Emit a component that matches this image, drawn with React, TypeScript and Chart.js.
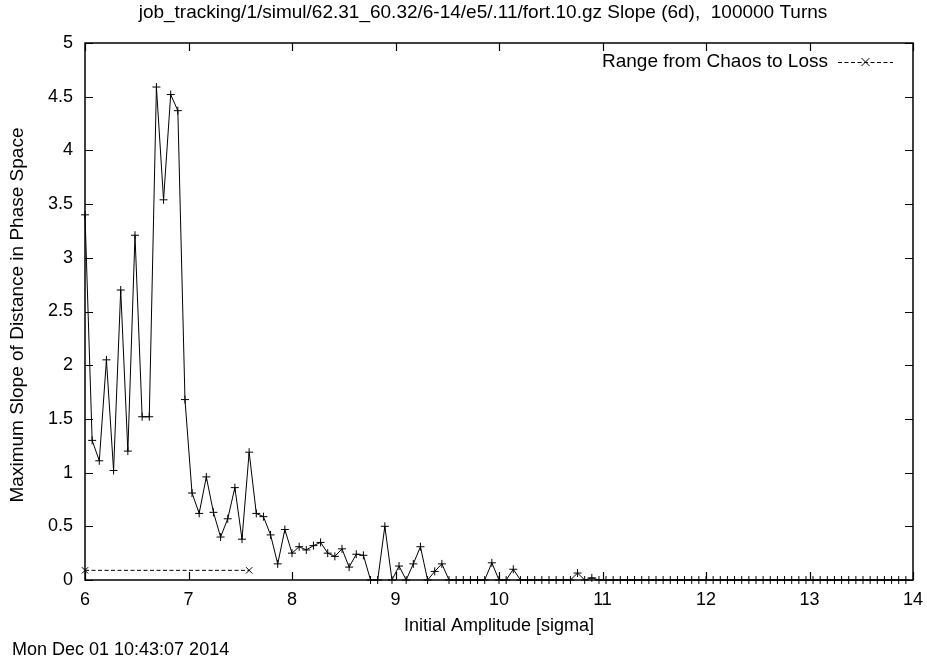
import React, { useEffect, useRef } from "react";
import { Chart, registerables } from "chart.js";

Chart.register(...registerables);

const FONT = "'Liberation Sans', Arial, Helvetica, sans-serif";

const TITLE = "job_tracking/1/simul/62.31_60.32/6-14/e5/.11/fort.10.gz Slope (6d),  100000 Turns";
const X_LABEL = "Initial Amplitude [sigma]";
const Y_LABEL = "Maximum Slope of Distance in Phase Space";
const DATE_TEXT = "Mon Dec 01 10:43:07 2014";
const LEGEND_LABEL = "Range from Chaos to Loss";

const X_MIN = 6;
const X_MAX = 14;
const Y_MIN = 0;
const Y_MAX = 5;

const amplitudes = [
  6.0, 6.069, 6.138, 6.207, 6.276, 6.345, 6.414, 6.483, 6.552, 6.621,
  6.69, 6.759, 6.828, 6.897, 6.966, 7.034, 7.103, 7.172, 7.241, 7.31,
  7.379, 7.448, 7.517, 7.586, 7.655, 7.724, 7.793, 7.862, 7.931, 8.0,
  8.069, 8.138, 8.207, 8.276, 8.345, 8.414, 8.483, 8.552, 8.621, 8.69,
  8.759, 8.828, 8.897, 8.966, 9.034, 9.103, 9.172, 9.241, 9.31, 9.379,
  9.448, 9.517, 9.586, 9.655, 9.724, 9.793, 9.862, 9.931, 10.0, 10.069,
  10.138, 10.207, 10.276, 10.345, 10.414, 10.483, 10.552, 10.621, 10.69, 10.759,
  10.828, 10.897, 10.966, 11.034, 11.103, 11.172, 11.241, 11.31, 11.379, 11.448,
  11.517, 11.586, 11.655, 11.724, 11.793, 11.862, 11.931, 12.0, 12.069, 12.138,
  12.207, 12.276, 12.345, 12.414, 12.483, 12.552, 12.621, 12.69, 12.759, 12.828,
  12.897, 12.966, 13.034, 13.103, 13.172, 13.241, 13.31, 13.379, 13.448, 13.517,
  13.586, 13.655, 13.724, 13.793, 13.862, 13.931,
];

const slopes = [
  3.4, 1.3, 1.11, 2.05, 1.02, 2.7, 1.2, 3.21, 1.52, 1.52,
  4.59, 3.54, 4.52, 4.37, 1.68, 0.81, 0.62, 0.96, 0.63, 0.4,
  0.57, 0.86, 0.38, 1.19, 0.62, 0.59, 0.42, 0.15, 0.47, 0.25,
  0.31, 0.28, 0.32, 0.35, 0.25, 0.22, 0.29, 0.12, 0.24, 0.23,
  0, 0, 0.5, 0, 0.13, 0, 0.15, 0.31, 0, 0.08,
  0.15, 0, 0, 0, 0, 0, 0, 0.16, 0, 0,
  0.1, 0, 0, 0, 0, 0, 0, 0, 0, 0.065,
  0, 0.02, 0, 0, 0, 0, 0, 0, 0, 0,
  0, 0, 0, 0, 0, 0, 0, 0, 0, 0,
  0, 0, 0, 0, 0, 0, 0, 0, 0, 0,
  0, 0, 0, 0, 0, 0, 0, 0, 0, 0,
  0, 0, 0, 0, 0, 0,
];

const chaosLossX = [6.0, 7.586];
const chaosLossY = [0.09, 0.09];

const gnuplotPlugin = {
  id: "gnuplotDecor",
  afterDraw(chart: any) {
    const { ctx, chartArea: a, scales } = chart;
    const xs = scales.x;
    const ys = scales.y;
    ctx.save();
    ctx.strokeStyle = "#000";
    ctx.lineWidth = 1.5;
    ctx.setLineDash([]);
    ctx.strokeRect(a.left, a.top, a.right - a.left, a.bottom - a.top);
    const tl = 8;
    ctx.lineWidth = 1.2;
    ctx.beginPath();
    xs.ticks.forEach((t: any) => {
      const px = Math.round(xs.getPixelForValue(t.value)) + 0.5;
      ctx.moveTo(px, a.bottom);
      ctx.lineTo(px, a.bottom - tl);
      ctx.moveTo(px, a.top);
      ctx.lineTo(px, a.top + tl);
    });
    ys.ticks.forEach((t: any) => {
      const py = Math.round(ys.getPixelForValue(t.value)) + 0.5;
      ctx.moveTo(a.left, py);
      ctx.lineTo(a.left + tl, py);
      ctx.moveTo(a.right, py);
      ctx.lineTo(a.right - tl, py);
    });
    ctx.stroke();

    // title
    ctx.fillStyle = "#000";
    ctx.font = `19px ${FONT}`;
    ctx.textBaseline = "middle";
    ctx.textAlign = "center";
    ctx.fillText(TITLE, 483, 13);

    // y axis title
    ctx.save();
    ctx.translate(18, 315);
    ctx.rotate(-Math.PI / 2);
    ctx.font = `19px ${FONT}`;
    ctx.textAlign = "center";
    ctx.fillText(Y_LABEL, 0, 0);
    ctx.restore();

    // legend
    const ly = a.top + 19;
    const sEnd = a.right - 20;
    const sStart = sEnd - 55;
    ctx.font = `19px ${FONT}`;
    ctx.textAlign = "right";
    ctx.fillText(LEGEND_LABEL, sStart - 10, ly);
    ctx.lineWidth = 1;
    ctx.setLineDash([4, 2.5]);
    ctx.beginPath();
    ctx.moveTo(sStart, ly + 0.5);
    ctx.lineTo(sEnd, ly + 0.5);
    ctx.stroke();
    ctx.setLineDash([]);
    const cx = (sStart + sEnd) / 2;
    const r = 4;
    ctx.beginPath();
    ctx.moveTo(cx - r, ly - r);
    ctx.lineTo(cx + r, ly + r);
    ctx.moveTo(cx - r, ly + r);
    ctx.lineTo(cx + r, ly - r);
    ctx.stroke();

    // date stamp
    ctx.textAlign = "left";
    ctx.font = `18px ${FONT}`;
    ctx.fillText(DATE_TEXT, 12, 650);
    ctx.restore();
  },
};

export default function App() {
  const canvasRef = useRef<HTMLCanvasElement | null>(null);

  useEffect(() => {
    const canvas = canvasRef.current;
    if (!canvas) return;
    const mainData = amplitudes.map((x, i) => ({ x, y: slopes[i] }));
    const lossData = chaosLossX.map((x, i) => ({ x, y: chaosLossY[i] }));
    const chart = new Chart(canvas, {
      type: "scatter",
      data: {
        datasets: [
          {
            label: "Slope",
            data: mainData,
            showLine: true,
            borderColor: "#000",
            backgroundColor: "#000",
            borderWidth: 1,
            pointStyle: "cross",
            pointRadius: 4,
            pointBorderWidth: 1,
            pointBorderColor: "#000",
            clip: false,
          },
          {
            label: LEGEND_LABEL,
            data: lossData,
            showLine: true,
            borderColor: "#000",
            backgroundColor: "#000",
            borderWidth: 1,
            borderDash: [4, 2.5],
            pointStyle: "crossRot",
            pointRadius: 4.5,
            pointBorderWidth: 1,
            pointBorderColor: "#000",
            clip: false,
          },
        ],
      },
      options: {
        responsive: false,
        animation: false,
        events: [],
        layout: { padding: { top: 43, right: 14, left: 0, bottom: 0 } },
        plugins: {
          legend: { display: false },
          title: { display: false },
          tooltip: { enabled: false },
        },
        scales: {
          x: {
            type: "linear",
            min: X_MIN,
            max: X_MAX,
            ticks: {
              stepSize: 1,
              color: "#000",
              padding: 9,
              maxRotation: 0,
              font: { family: FONT, size: 18 },
            },
            grid: { display: false, drawTicks: false },
            border: { display: false },
            title: {
              display: true,
              text: X_LABEL,
              color: "#000",
              font: { family: FONT, size: 18 },
              padding: { top: 0, bottom: 24 },
            },
            afterFit: (s: any) => {
              s.height = 81;
              s.paddingLeft = 0;
              s.paddingRight = 0;
            },
          },
          y: {
            type: "linear",
            min: Y_MIN,
            max: Y_MAX,
            ticks: {
              stepSize: 0.5,
              color: "#000",
              padding: 12,
              font: { family: FONT, size: 18 },
              callback: (v: any) => String(Number(v)),
            },
            grid: { display: false, drawTicks: false },
            border: { display: false },
            title: { display: false },
            afterFit: (s: any) => {
              s.width = 85;
              s.paddingTop = 0;
              s.paddingBottom = 0;
            },
          },
        },
      },
      plugins: [gnuplotPlugin],
    });
    return () => chart.destroy();
  }, []);

  return (
    <div style={{ position: "fixed", left: 0, top: 0, width: 927, height: 661, background: "#fff" }}>
      <canvas ref={canvasRef} width={927} height={661} style={{ display: "block" }} />
    </div>
  );
}
